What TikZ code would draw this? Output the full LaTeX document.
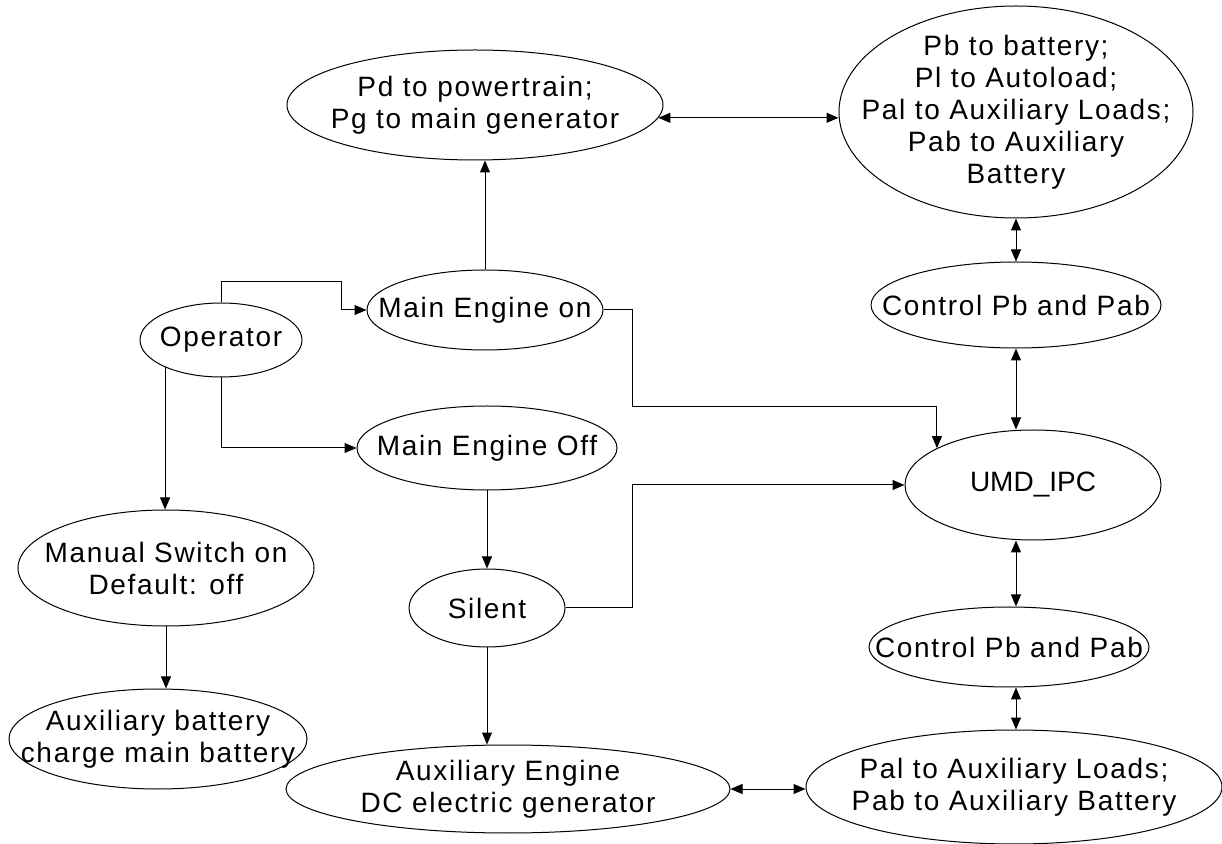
\documentclass[tikz,border=0pt]{standalone}
\usepackage{fontspec}
\newfontfamily\diagfont{Liberation Sans}[LetterSpace=6]
\newfontfamily\plainfont{Liberation Sans}
\usetikzlibrary{shapes.geometric,arrows.meta,calc}

\begin{document}
\begin{tikzpicture}[x=0.5pt, y=-0.5pt, line width=0.5pt,
    blob/.style={ellipse, draw, inner sep=0pt},
    every label/.style={align=center, font=\diagfont\fontsize{14}{16}\selectfont},
    one/.style={-{Triangle[length=6pt,width=5pt]}},
    both/.style={{Triangle[length=6pt,width=5pt]}-{Triangle[length=6pt,width=5pt]}}]
\useasboundingbox (0,0) rectangle (1222,844);

% Top row
\node[blob, minimum width=188pt, minimum height=55pt,
    label={center:Pd to powertrain;\\Pg to main generator}] (pd) at (475,105) {};
\node[blob, minimum width=177pt, minimum height=106pt,
    label={center:Pb to battery;\\Pl to Autoload;\\Pal to Auxiliary Loads;\\Pab to Auxiliary\\Battery}] (pb) at (1016,112) {};

% Engine states
\node[blob, minimum width=118pt, minimum height=40pt, label={center:Main Engine on}] (meon) at (485,310) {};
\node[blob, minimum width=81pt, minimum height=37pt, label={center:Operator}] (op) at (221,340) {};
\node[blob, minimum width=130pt, minimum height=42pt, label={center:Main Engine Off}] (meoff) at (487,448) {};
\node[blob, minimum width=78pt, minimum height=39pt, label={center:Silent}] (sil) at (487,608) {};

% Controller
\node[blob, minimum width=145pt, minimum height=43pt, label={center:Control Pb and Pab}] (ctrl1) at (1016,305) {};
\node[blob, minimum width=128pt, minimum height=55pt,
    label={[font=\plainfont\fontsize{14}{16}\selectfont]center:UMD\_IPC}] (umd) at (1033,485) {};
\node[blob, minimum width=140pt, minimum height=40pt, label={center:Control Pb and Pab}] (ctrl2) at (1009,647) {};

% Bottom row
\node[blob, minimum width=148pt, minimum height=58pt,
    label={center:Manual Switch on\\Default: off}] (man) at (166,568) {};
\node[blob, minimum width=149pt, minimum height=50pt,
    label={center:Auxiliary battery\\charge main battery}] (auxb) at (158,739) {};
\node[blob, minimum width=222pt, minimum height=44pt,
    label={center:Auxiliary Engine\\DC electric generator}] (auxe) at (508,789) {};
\node[blob, minimum width=208pt, minimum height=57pt,
    label={center:Pal to Auxiliary Loads;\\Pab to Auxiliary Battery}] (pal) at (1014,787) {};

% Operator choices
\draw[one] (op.north) |- ($(meon.west)+(-25,-28)$) |- (meon.west);
\draw[one] (op.south) |- (meoff.west);
\draw[one] (op.206) -- (op.206 |- man.north);

% Flow downwards
\draw[one] (meon.north) -- (meon.north |- pd.south);
\draw[one] (meoff.south) -- (sil.north);
\draw[one] (sil.south) -- (sil.south |- auxe.north);
\draw[one] (man.south) -- (man.south |- auxb.north);

% Signals to UMD_IPC
\draw[one] (meon.east) -- ++(29,0) |- ($(umd.159)+(0,-42)$) -- (umd.159);
\draw[one] (sil.east) -- ++(67,0) |- (umd.west);

% Power exchange
\draw[both] (pd.-4) -- (pb.west |- pd.-4);
\draw[both] (pb.south) -- (ctrl1.north);
\draw[both] (ctrl1.south) -- (ctrl1.south |- umd.north);
\draw[both] (ctrl1.south |- umd.south) -- (ctrl1.south |- ctrl2.north);
\draw[both] (ctrl1.south |- ctrl2.south) -- (ctrl1.south |- pal.north);
\draw[both] (auxe.east) -- (auxe.east -| pal.west);
\end{tikzpicture}
\end{document}
